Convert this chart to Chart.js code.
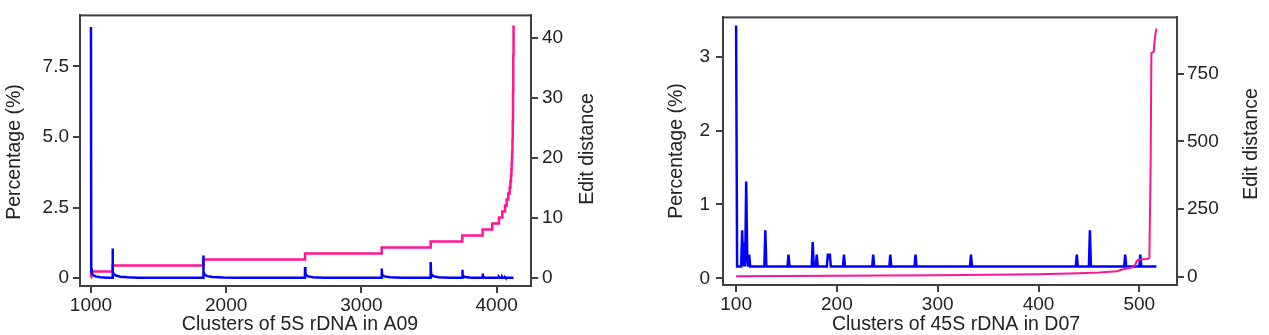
<!DOCTYPE html>
<html>
<head>
<meta charset="utf-8">
<script src="https://cdn.jsdelivr.net/npm/chart.js@4.4.1/dist/chart.umd.min.js"></script>
<style>
  html, body { margin: 0; padding: 0; background: #ffffff; }
  #wrap { position: relative; width: 1269px; height: 335px; overflow: hidden; }
  #c1 { position: absolute; left: 0; top: 0; }
  #c2 { position: absolute; left: 634px; top: 0; }
</style>
</head>
<body>
<div id="wrap">
  <canvas id="c1" width="634" height="335"></canvas>
  <canvas id="c2" width="635" height="335"></canvas>
</div>
<script>
// ---------- Left panel: 5S rDNA in A09 ----------
const leftXTicks = [1000, 2000, 3000, 4000];
const leftPctTicks = [0, 2.5, 5, 7.5];
const leftPctTickLabels = ['0', '2.5', '5.0', '7.5'];
const leftEditTicks = [0, 10, 20, 30, 40];

// Percentage (%) of each cluster (blue)
const leftBlueX = [1000, 1002, 1006, 1015, 1035, 1070, 1120, 1159,
  1160, 1162, 1168, 1185, 1215, 1270, 1350, 1450, 1830,
  1831, 1833, 1840, 1860, 1900, 1980, 2080, 2582,
  2583, 2586, 2600, 2640, 2720, 2800, 3149,
  3150, 3153, 3170, 3210, 3300, 3511,
  3512, 3515, 3530, 3570, 3650, 3745,
  3746, 3749, 3765, 3810, 3895,
  3896, 3899, 3920, 3966,
  3967, 3972, 4016, 4017, 4022, 4041, 4042, 4047, 4061, 4062, 4066, 4124];
const leftBlueY = [8.9, 0.35, 0.18, 0.1, 0.06, 0.03, 0.015, 0.01,
  1.05, 0.25, 0.14, 0.09, 0.05, 0.03, 0.015, 0.01, 0.01,
  0.8, 0.22, 0.12, 0.07, 0.04, 0.02, 0.01, 0.01,
  0.39, 0.15, 0.07, 0.03, 0.015, 0.01, 0.01,
  0.34, 0.12, 0.06, 0.03, 0.01, 0.01,
  0.57, 0.15, 0.07, 0.03, 0.01, 0.01,
  0.3, 0.1, 0.04, 0.01, 0.01,
  0.16, 0.05, 0.01, 0.01,
  0.05, 0.01, 0.01, 0.04, 0.01, 0.01, 0.04, 0.01, 0.01, 0.03, 0.01, 0.01];

// Edit distance (pink), step values starting at each x
const leftPinkX = [1000, 1001, 1160, 1831, 2583, 3150, 3512, 3746, 3896, 3967, 4017,
  4042, 4062, 4074, 4086, 4096, 4102, 4106, 4109, 4111, 4113, 4115, 4117, 4119, 4121, 4123, 4125];
const leftPinkY = [0, 1, 2, 3, 4, 5, 6, 7, 8, 9, 10,
  11, 12, 13, 14, 15, 16, 17, 18, 19, 20, 21, 23, 26, 31, 37, 42];

// ---------- Right panel: 45S rDNA in D07 ----------
const rightXTicks = [100, 200, 300, 400, 500];
const rightPctTicks = [0, 1, 2, 3];
const rightPctTickLabels = ['0', '1', '2', '3'];
const rightEditTicks = [0, 250, 500, 750];

const rightBlueX = [100, 101, 105, 106, 107, 108, 109, 110, 111, 112, 113, 114,
  128, 129, 130, 151, 152, 153, 175, 176, 177, 179, 180, 181,
  190, 191, 193, 194, 206, 207, 208, 235, 236, 237, 252, 253, 254,
  277, 278, 279, 332, 333, 334, 437, 438, 439, 450, 451, 452,
  485, 486, 487, 500, 501, 502, 517];
const rightBlueY = [3.42, 0.16, 0.16, 0.65, 0.16, 0.49, 0.16, 1.31, 0.32, 0.16, 0.32, 0.16,
  0.16, 0.65, 0.16, 0.16, 0.32, 0.16, 0.16, 0.49, 0.16, 0.16, 0.32, 0.16,
  0.16, 0.32, 0.32, 0.16, 0.16, 0.32, 0.16, 0.16, 0.32, 0.16, 0.16, 0.32, 0.16,
  0.16, 0.32, 0.16, 0.16, 0.32, 0.16, 0.16, 0.32, 0.16, 0.16, 0.65, 0.16,
  0.16, 0.32, 0.16, 0.16, 0.32, 0.16, 0.16];

const rightPinkX = [100, 150, 200, 250, 300, 350, 400, 440, 460, 478, 483, 490, 494,
  496, 497.5, 499, 503, 508, 510, 511.2, 512, 514.3, 515.2, 516, 517];
const rightPinkY = [2, 3, 4, 5, 6, 8, 10, 13, 16, 21, 27, 33, 36,
  45, 58, 63, 65, 66, 70, 400, 826, 830, 870, 895, 916];

// ---------- helpers ----------
const FONT = '"Liberation Sans", Arial, sans-serif';
const TEXT = '#222222';
const AXIS = '#404040';
const BLUE = '#0000ff';
const PINK = '#ff1493';

function pts(xs, ys) { return xs.map((x, i) => ({ x: x, y: ys[i] })); }

function fixedTicks(arr) { return s => { s.ticks = arr.map(v => ({ value: v })); }; }

function axisCommon(extra) {
  return Object.assign({
    type: 'linear',
    border: { display: true, color: AXIS, width: 2 },
    grid: { display: true, drawOnChartArea: false, drawTicks: true, tickLength: 7, color: AXIS, lineWidth: 2 },
    ticks: { color: TEXT, font: { family: FONT, size: 19 }, maxRotation: 0, autoSkip: false },
    title: { display: false }
  }, extra);
}

function titlePlugin(titles) {
  return {
    id: 'titlesAndBox',
    afterDatasetsDraw(chart) {
      const ctx = chart.ctx, a = chart.chartArea;
      ctx.save();
      ctx.strokeStyle = AXIS;
      ctx.lineWidth = 2;
      ctx.strokeRect(a.left, a.top, a.right - a.left, a.bottom - a.top);
      ctx.restore();
    },
    afterDraw(chart) {
      const ctx = chart.ctx;
      ctx.save();
      ctx.fillStyle = TEXT;
      ctx.font = '19.5px ' + FONT;
      ctx.textAlign = 'center';
      ctx.textBaseline = 'middle';
      titles.forEach(t => {
        ctx.save();
        ctx.translate(t.x, t.y);
        ctx.rotate(t.rot);
        ctx.fillText(t.text, 0, 0);
        ctx.restore();
      });
      ctx.restore();
    }
  };
}

function makeChart(id, cfg) {
  return new Chart(document.getElementById(id), {
    type: 'line',
    data: {
      datasets: [
        { label: 'Percentage (%)', data: pts(cfg.bx, cfg.by), yAxisID: 'y', borderColor: BLUE,
          borderWidth: cfg.blueWidth, pointRadius: 0, tension: 0, order: cfg.blueOrder },
        { label: 'Edit distance', data: pts(cfg.px, cfg.py), yAxisID: 'y1', borderColor: PINK,
          borderWidth: cfg.pinkWidth, pointRadius: 0, tension: 0, stepped: cfg.stepped, order: cfg.pinkOrder }
      ]
    },
    options: {
      responsive: false,
      animation: false,
      devicePixelRatio: 1,
      layout: { padding: { top: cfg.top, left: 0, right: 0, bottom: 0 } },
      plugins: { legend: { display: false }, tooltip: { enabled: false } },
      scales: {
        x: axisCommon({
          position: 'bottom', min: cfg.xmin, max: cfg.xmax,
          afterBuildTicks: fixedTicks(cfg.xticks),
          afterFit: s => { s.height = cfg.xh; },
          ticks: { color: TEXT, font: { family: FONT, size: 19 }, maxRotation: 0, autoSkip: false, padding: 1,
                   callback: v => String(v) }
        }),
        y: axisCommon({
          position: 'left', min: cfg.ymin, max: cfg.ymax,
          afterBuildTicks: fixedTicks(cfg.yticks),
          afterFit: s => { s.width = cfg.yw; },
          ticks: { color: TEXT, font: { family: FONT, size: 19 }, padding: cfg.ypad, autoSkip: false,
                   callback: (v, i) => cfg.ylabels[i] }
        }),
        y1: axisCommon({
          position: 'right', min: cfg.y1min, max: cfg.y1max,
          afterBuildTicks: fixedTicks(cfg.y1ticks),
          afterFit: s => { s.width = cfg.y1w; },
          ticks: { color: TEXT, font: { family: FONT, size: 19 }, padding: cfg.y1pad, autoSkip: false,
                   callback: v => String(v) }
        })
      }
    },
    plugins: [titlePlugin(cfg.titles)]
  });
}

makeChart('c1', {
  bx: leftBlueX, by: leftBlueY, px: leftPinkX, py: leftPinkY,
  blueWidth: 2.5, pinkWidth: 2.5, stepped: 'before', blueOrder: 0, pinkOrder: 1,
  top: 10, xh: 49, yw: 80, y1w: 103, ypad: 4, y1pad: 4,
  xmin: 919, xmax: 4254, xticks: leftXTicks,
  ymin: -0.28, ymax: 9.31, yticks: leftPctTicks, ylabels: leftPctTickLabels,
  y1min: -1.4, y1max: 43.7, y1ticks: leftEditTicks,
  titles: [
    { text: 'Clusters of 5S rDNA in A09', x: 300, y: 325, rot: 0 },
    { text: 'Percentage (%)', x: 15, y: 152, rot: -Math.PI / 2 },
    { text: 'Edit distance', x: 588, y: 149, rot: -Math.PI / 2 }
  ]
});

makeChart('c2', {
  bx: rightBlueX, by: rightBlueY, px: rightPinkX, py: rightPinkY,
  blueWidth: 2.5, pinkWidth: 2, stepped: false, blueOrder: 1, pinkOrder: 0,
  top: 12, xh: 50, yw: 89, y1w: 92, ypad: 6, y1pad: 3,
  xmin: 87, xmax: 537.4, xticks: rightXTicks,
  ymin: -0.09, ymax: 3.53, yticks: rightPctTicks, ylabels: rightPctTickLabels,
  y1min: -30, y1max: 957, y1ticks: rightEditTicks,
  titles: [
    { text: 'Clusters of 45S rDNA in D07', x: 956 - 634, y: 325, rot: 0 },
    { text: 'Percentage (%)', x: 677 - 634, y: 151, rot: -Math.PI / 2 },
    { text: 'Edit distance', x: 1252 - 634, y: 144, rot: -Math.PI / 2 }
  ]
});
</script>
</body>
</html>
